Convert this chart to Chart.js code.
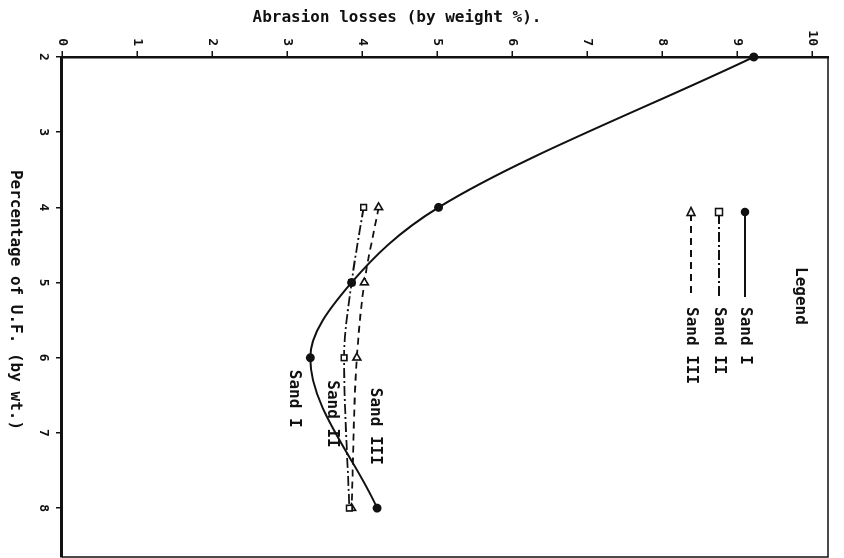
<!DOCTYPE html>
<html>
<head>
<meta charset="utf-8">
<title>Abrasion losses</title>
<script src="https://cdn.jsdelivr.net/npm/chart.js@4.4.0/dist/chart.umd.min.js"></script>
<style>
  html, body { margin: 0; padding: 0; background: #fff; overflow: hidden; }
  /* the scanned figure is printed sideways, so the chart is drawn upright and turned 90deg */
  #wrap {
    position: absolute; left: 0; top: 0;
    width: 558px; height: 844px;
    transform-origin: 0 0;
    transform: translateX(844px) rotate(90deg);
  }
</style>
</head>
<body>
<div id="wrap"><canvas id="abrasionChart" width="558" height="844"></canvas></div>
<script>
// percentage of U.F. (by wt.) where each sand was measured
const sandIPercent = [2, 4, 5, 6, 8];
const sandIIPercent = [4, 5, 6, 8];
const sandIIIPercent = [4, 5, 6, 8];

// abrasion losses (by weight %)
const sandI = [9.22, 5.02, 3.86, 3.31, 4.2];
const sandII = [4.02, 3.86, 3.76, 3.83];
const sandIII = [4.22, 4.03, 3.93, 3.86];

const seriesNames = ["Sand I", "Sand II", "Sand III"];
const xTicks = [2, 3, 4, 5, 6, 7, 8];
const yTicks = [0, 1, 2, 3, 4, 5, 6, 7, 8, 9, 10];
const xTitle = "Percentage of U.F. (by wt.)";
const yTitle = "Abrasion losses (by weight %).";
const legendTitle = "Legend";

const FONT = '"DejaVu Sans Mono", "Liberation Mono", monospace';
const INK = "#111";

function toPoints(xs, ys) {
  return xs.map((x, i) => ({ x: x, y: ys[i] }));
}

const dashes = [[], [10, 3, 2, 3], [7, 5]];

function drawMarker(ctx, kind, x, y) {
  ctx.save();
  ctx.setLineDash([]);
  ctx.lineWidth = 1.6;
  ctx.strokeStyle = INK;
  ctx.fillStyle = kind === 0 ? INK : "#fff";
  ctx.beginPath();
  if (kind === 0) {
    ctx.arc(x, y, 3.5, 0, Math.PI * 2);
  } else if (kind === 1) {
    ctx.rect(x - 3.5, y - 3.5, 7, 7);
  } else {
    // apex to the left, so it points up once the page is turned
    ctx.moveTo(x - 4.5, y);
    ctx.lineTo(x + 3.5, y - 4);
    ctx.lineTo(x + 3.5, y + 4);
    ctx.closePath();
  }
  ctx.fill();
  ctx.stroke();
  ctx.restore();
}

// frame, titles, legend and the labels written beside the curves
const annotations = {
  id: "annotations",
  afterDraw(chart) {
    const ctx = chart.ctx;
    const area = chart.chartArea;
    const xs = chart.scales.x;
    const ys = chart.scales.y;
    ctx.save();
    ctx.strokeStyle = INK;
    ctx.lineWidth = 1.5;
    ctx.beginPath();
    ctx.moveTo(area.left, area.top);
    ctx.lineTo(area.right, area.top);
    ctx.lineTo(area.right, area.bottom);
    ctx.stroke();

    ctx.fillStyle = INK;
    ctx.font = "bold 16px " + FONT;
    ctx.textBaseline = "middle";

    // y title, turned like a normal y axis title
    ctx.save();
    ctx.translate(18, 447);
    ctx.rotate(-Math.PI / 2);
    ctx.textAlign = "center";
    ctx.fillText(yTitle, 0, 0);
    ctx.restore();

    // x title
    ctx.textAlign = "center";
    ctx.fillText(xTitle, 300, 829);

    // legend box inside the plot
    ctx.textAlign = "left";
    ctx.fillText(legendTitle, 267, 44);
    const rows = [99, 125, 153];
    seriesNames.forEach((name, i) => {
      const y = rows[i];
      ctx.save();
      ctx.lineWidth = 1.8;
      ctx.setLineDash(dashes[i]);
      ctx.beginPath();
      ctx.moveTo(214, y);
      ctx.lineTo(297, y);
      ctx.stroke();
      ctx.restore();
      drawMarker(ctx, i, 212, y);
      ctx.fillText(name, 307, y);
    });

    // labels next to the curves
    const tags = [[6.16, 3.1], [6.30, 3.6], [6.40, 4.17]];
    seriesNames.forEach((name, i) => {
      ctx.fillText(name, xs.getPixelForValue(tags[i][0]), ys.getPixelForValue(tags[i][1]));
    });
    ctx.restore();
  }
};

const canvas = document.getElementById("abrasionChart");

new Chart(canvas, {
  type: "line",
  data: {
    datasets: [
      {
        label: seriesNames[0],
        data: toPoints(sandIPercent, sandI),
        borderColor: INK,
        borderWidth: 2,
        cubicInterpolationMode: "monotone",
        pointStyle: "circle",
        pointRadius: 3.5,
        pointBackgroundColor: INK,
        pointBorderColor: INK,
        clip: 8,
      },
      {
        label: seriesNames[1],
        data: toPoints(sandIIPercent, sandII),
        borderColor: INK,
        borderWidth: 1.8,
        borderDash: dashes[1],
        cubicInterpolationMode: "monotone",
        pointStyle: "rect",
        pointRadius: 4,
        pointBackgroundColor: "#fff",
        pointBorderColor: INK,
        pointBorderWidth: 1.6,
      },
      {
        label: seriesNames[2],
        data: toPoints(sandIIIPercent, sandIII),
        borderColor: INK,
        borderWidth: 1.8,
        borderDash: dashes[2],
        cubicInterpolationMode: "monotone",
        pointStyle: "triangle",
        pointRotation: -90,
        pointRadius: 4.5,
        pointBackgroundColor: "#fff",
        pointBorderColor: INK,
        pointBorderWidth: 1.6,
      },
    ],
  },
  options: {
    responsive: false,
    animation: false,
    devicePixelRatio: 1,
    layout: { autoPadding: false, padding: { top: 16, right: 1, left: 0, bottom: 0 } },
    plugins: {
      legend: { display: false },
      tooltip: { enabled: false },
    },
    scales: {
      x: {
        type: "linear",
        min: 2,
        max: 8.65,
        afterBuildTicks: (scale) => { scale.ticks = xTicks.map((v) => ({ value: v })); },
        afterFit: (scale) => { scale.height = 62; },
        grid: { display: true, drawOnChartArea: false, drawTicks: true, tickLength: 6, color: INK, lineWidth: 1.5 },
        border: { display: true, color: INK, width: 3 },
        ticks: { color: INK, font: { family: FONT, size: 13, weight: "bold" }, padding: 5, maxRotation: 0, autoSkip: false },
      },
      y: {
        min: 0,
        max: 10.21,
        afterBuildTicks: (scale) => { scale.ticks = yTicks.map((v) => ({ value: v })); },
        afterFit: (scale) => { scale.width = 57; },
        grid: { display: true, drawOnChartArea: false, drawTicks: true, tickLength: 6, color: INK, lineWidth: 1.5 },
        border: { display: true, color: INK, width: 2.5 },
        ticks: { color: INK, font: { family: FONT, size: 13, weight: "bold" }, padding: 5, autoSkip: false },
      },
    },
  },
  plugins: [annotations],
});
</script>
</body>
</html>
